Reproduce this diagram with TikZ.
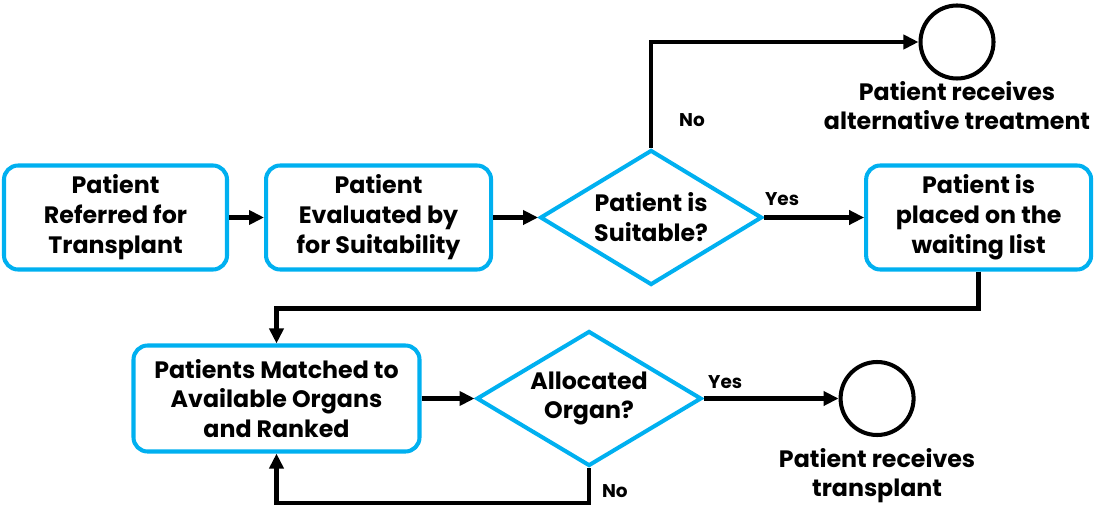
\documentclass[tikz,border=0pt]{standalone}
\usepackage{fontspec}
\setmainfont{Poppins}
\usepackage{tikz}
\usetikzlibrary{arrows.meta,positioning,shapes.geometric}
\definecolor{cBlue}{RGB}{0,176,240}
\tikzset{
  proc/.style={draw=cBlue, line width=2.3pt, rounded corners=8pt, fill=white,
               align=center, font=\fontsize{13.5}{17}\selectfont\bfseries,
               minimum width=4.46cm, minimum height=2.08cm, inner sep=2pt},
  dec/.style={diamond, draw=cBlue, line width=2.3pt, fill=white, aspect=1.67,
              align=center, font=\fontsize{13.5}{17}\selectfont\bfseries,
              minimum width=4.44cm, minimum height=2.7cm, inner sep=0pt},
  term/.style={circle, draw=black, line width=2.3pt, minimum size=1.46cm},
  note/.style={align=center, font=\fontsize{13.5}{16.5}\selectfont\bfseries},
  lbl/.style={font=\fontsize{10.5}{12}\selectfont\bfseries},
  ar/.style={-{Triangle[length=3mm,width=2.8mm]}, draw=black, line width=2.5pt},
}
\begin{document}
\begin{tikzpicture}[node distance=7mm]
\useasboundingbox (0,0) rectangle (21.98,-10.34);
\node[proc] (ref) at (2.31,-4.35) {Patient\\Referred for\\Transplant};
\node[proc, minimum width=4.5cm, right=7mm of ref] (eval) {Patient\\Evaluated by\\for Suitability};
\node[dec, right=9mm of eval] (suit) {Patient is\\Suitable?};
\node[proc, minimum width=4.5cm, right=20mm of suit] (wait) {Patient is\\placed on the\\waiting list};
\node[term] (alt) at (19.14,-0.84) {};
\node[note, below=-1mm of alt] (altlbl) {Patient receives\\alternative treatment};

\node[proc, minimum width=5.72cm, minimum height=2.12cm] (match) at (5.53,-7.97)
  {Patients Matched to\\Available Organs\\and Ranked};
\node[dec, minimum width=4.5cm, right=10.6mm of match] (alloc) {Allocated\\Organ?};
\node[term, right=27mm of alloc] (tx) {};
\node[note, below=1mm of tx] (txlbl) {Patient receives\\transplant};

\draw[ar] (ref) -- (eval);
\draw[ar] (eval) -- (suit);
\draw[ar] (suit.east) -- node[lbl, pos=0.18, above=2pt] (yes1) {Yes} (wait.west);
\draw[ar] (suit.north) |- node[lbl, pos=0.13, right=0.4cm] (no1) {No} (alt.west);
\draw[ar] (wait.south) -- ++(0,-0.74) -| (match.north);
\draw[ar] (match) -- (alloc);
\draw[ar] (alloc.east) -- node[lbl, pos=0.16, above=1pt] (yes2) {Yes} (tx.west);
\draw[ar] (alloc.south) -- node[lbl, pos=0.65, right=0.1cm] (no2) {No} ++(0,-0.7) -| (match.south);
\end{tikzpicture}
\end{document}
